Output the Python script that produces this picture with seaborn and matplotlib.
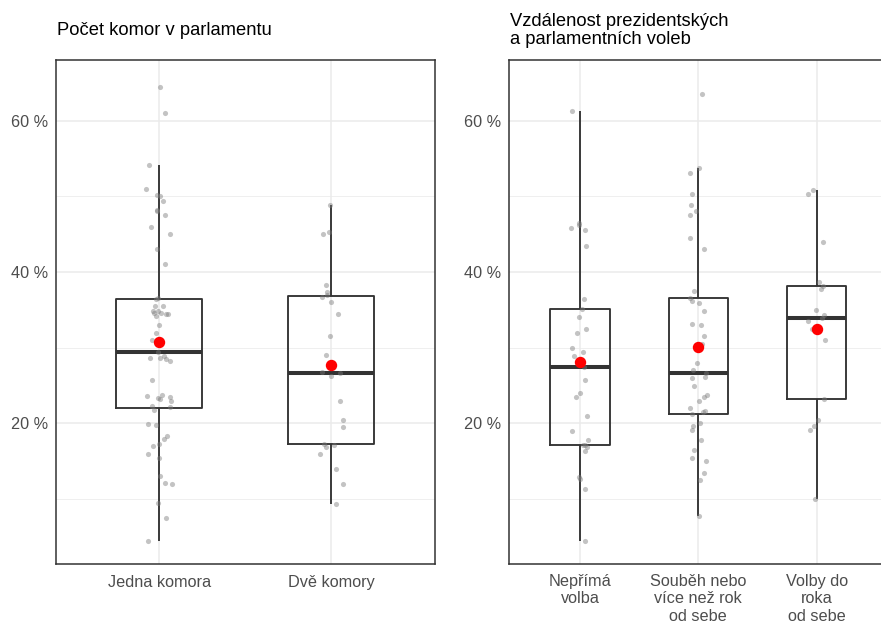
import numpy as np
import pandas as pd
import matplotlib
matplotlib.use("Agg")
import matplotlib.pyplot as plt
import seaborn as sns
from matplotlib.ticker import FixedLocator, FuncFormatter

# ---- data (percent) ----
left_title = "Počet komor v parlamentu"
right_title = "Vzdálenost prezidentských\na parlamentních voleb"

left_cats = ["Jedna komora", "Dvě komory"]
right_cats = ["Nepřímá\nvolba", "Souběh nebo\nvíce než rok\nod sebe", "Volby do\nroka\nod sebe"]

jedna_komora = [4.5, 7.5, 9.5, 12.2, 12.0, 13.0, 15.5, 16.0, 17.0, 17.3, 18.0, 18.3,
                19.8, 19.9, 21.8, 22.2, 22.3, 23.3, 23.5, 23.6, 23.8, 23.0, 25.7, 23.2,
                28.3, 28.6, 28.7, 28.5, 28.9, 29.4, 31.0, 31.2, 32.0, 33.0, 34.2, 34.4,
                34.5, 34.6, 34.6, 34.8, 34.9, 35.5, 35.5, 36.4, 36.6, 41.0, 43.0, 45.0,
                46.0, 47.5, 48.0, 48.2, 49.4, 50.1, 50.2, 50.9, 54.1, 61.0, 64.5]
dve_komory = [9.4, 12.0, 14.0, 16.0, 16.9, 17.2, 17.3, 19.5, 20.5, 23.0, 26.3, 26.6,
              26.8, 29.0, 31.5, 34.5, 36.0, 36.7, 37.0, 37.4, 38.3, 45.0, 45.3, 48.9]

neprima = [4.5, 11.3, 12.6, 12.9, 16.4, 16.9, 17.1, 17.2, 17.8, 19.0, 21.0, 23.5,
           24.0, 25.8, 27.4, 28.9, 29.5, 30.0, 32.0, 32.5, 34.0, 35.1, 36.5, 43.5,
           45.5, 45.8, 46.2, 46.5, 61.3]
soubeh = [7.8, 12.5, 13.5, 15.0, 15.5, 16.5, 17.8, 19.1, 19.7, 20.0, 21.3, 21.5,
          21.6, 22.0, 23.0, 23.5, 23.8, 25.0, 26.0, 26.2, 26.7, 27.0, 28.0, 30.5,
          31.5, 33.1, 33.0, 34.9, 35.9, 36.2, 36.6, 37.5, 43.0, 44.5, 47.5, 48.0,
          48.8, 50.3, 53.1, 53.8, 63.5]
volby_do_roka = [10.0, 19.2, 19.6, 20.5, 23.2, 31.0, 32.5, 33.5, 33.9, 34.3, 35.0,
                 37.8, 38.2, 38.7, 44.0, 50.3, 50.8]

y_ticks = [20, 40, 60]
y_minor = [10, 30, 50]

df_left = pd.DataFrame({
    "cat": [left_cats[0]] * len(jedna_komora) + [left_cats[1]] * len(dve_komory),
    "val": jedna_komora + dve_komory,
})
df_right = pd.DataFrame({
    "cat": [right_cats[0]] * len(neprima) + [right_cats[1]] * len(soubeh)
           + [right_cats[2]] * len(volby_do_roka),
    "val": neprima + soubeh + volby_do_roka,
})

# ---- style ----
sns.set_theme(style="white")
plt.rcParams["font.family"] = ["Liberation Sans", "DejaVu Sans"]

W, H = 881, 622
fig = plt.figure(figsize=(W / 100, H / 100), dpi=100)
fig.patch.set_facecolor("white")

ax_l = fig.add_axes([56 / W, 1 - 564 / H, 378.5 / W, 504 / H])
ax_r = fig.add_axes([509 / W, 1 - 564 / H, 378.6 / W, 504 / H])

np.random.seed(7)


def draw_panel(ax, df, cats, xpad):
    sns.boxplot(data=df, x="cat", y="val", order=cats, ax=ax, width=0.5,
                fill=False, color="#333333", linewidth=1.35, showfliers=False,
                showcaps=False, whis=1.5, showmeans=True,
                meanprops=dict(marker="o", markerfacecolor="#FF0000",
                               markeredgecolor="#FF0000", markersize=7.2,
                               zorder=10),
                medianprops=dict(linewidth=2.9, color="#333333"))
    sns.stripplot(data=df, x="cat", y="val", order=cats, ax=ax, jitter=0.075,
                  color="#7a7a7a", alpha=0.45, size=3.7, linewidth=0, zorder=5)
    ax.set_xlim(-0.6, len(cats) - 0.4)
    ax.set_ylim(1.44, 68.0)
    ax.yaxis.set_major_locator(FixedLocator(y_ticks))
    ax.yaxis.set_minor_locator(FixedLocator(y_minor))
    ax.yaxis.set_major_formatter(FuncFormatter(lambda v, p: f"{v:.0f} %"))
    ax.set_axisbelow(True)
    ax.grid(which="major", color="#EBEBEB", linewidth=1.1)
    ax.grid(which="minor", axis="y", color="#EBEBEB", linewidth=0.55)
    for s in ax.spines.values():
        s.set_visible(True)
        s.set_color("#333333")
        s.set_linewidth(1.1)
    ax.tick_params(axis="both", which="major", direction="out", length=3.2,
                   width=0.8, color="#333333", labelcolor="#4D4D4D",
                   labelsize=11.7)
    ax.tick_params(axis="x", which="major", pad=xpad)
    ax.tick_params(axis="y", which="major", pad=2.2)
    ax.tick_params(axis="y", which="minor", length=0)
    ax.set_xlabel("")
    ax.set_ylabel("")
    for lab in ax.get_xticklabels():
        lab.set_linespacing(1.19)


draw_panel(ax_l, df_left, left_cats, 4.6)
draw_panel(ax_r, df_right, right_cats, 4.0)

fig.text(57 / W, 1 - 35 / H, left_title, fontsize=13.2, color="black",
         ha="left", va="baseline")
fig.text(510 / W, 1 - 44.5 / H, right_title, fontsize=13.2, color="black",
         ha="left", va="baseline", linespacing=1.1)

fig.savefig("out.png", dpi=100, facecolor="white")
